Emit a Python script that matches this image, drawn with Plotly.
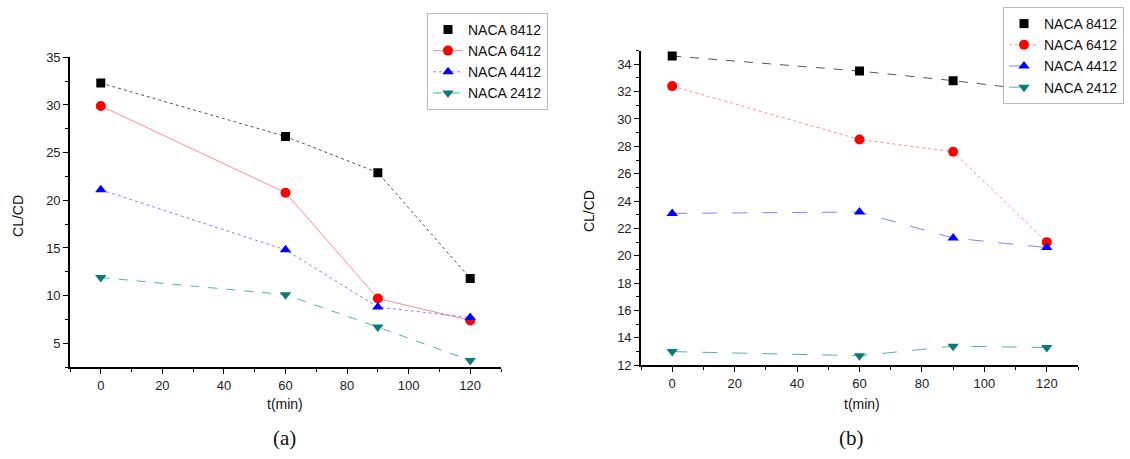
import plotly.graph_objects as go

# ---- data ----
t_min = [0, 60, 90, 120]
series_names = ["NACA 8412", "NACA 6412", "NACA 4412", "NACA 2412"]

a_8412 = [32.3, 26.7, 22.9, 11.8]
a_6412 = [29.9, 20.8, 9.7, 7.4]
a_4412 = [21.1, 14.8, 8.8, 7.7]
a_2412 = [11.9, 10.1, 6.7, 3.2]

b_8412 = [34.6, 33.5, 32.8, 32.0]
b_6412 = [32.4, 28.5, 27.6, 21.0]
b_4412 = [23.1, 23.2, 21.3, 20.6]
b_2412 = [13.0, 12.7, 13.4, 13.3]

W, H = 1130, 459

def px(x):
    return x / W

def py(y):
    return 1 - y / H

marker_colors = ["#000000", "#ff0000", "#0000ff", "#0a7a7a"]
marker_symbols = ["square", "circle", "triangle-up", "triangle-down"]
line_colors = ["#555555", "#ff8c8c", "#8080ff", "#4fb0b0"]
a_dash = ["dot", "solid", "dot", "dash"]
b_dash = ["dash", "dot", "longdash", "longdash"]

fig = go.Figure()

def add_panel(data, xa, ya, legend, dashes):
    for i, (name, vals) in enumerate(zip(series_names, data)):
        if i == 0:
            # line without legend entry, markers-only legend entry
            fig.add_trace(go.Scatter(
                x=t_min, y=vals, mode="lines", xaxis=xa, yaxis=ya,
                line=dict(color=line_colors[i], width=1, dash=dashes[i]),
                showlegend=False, hoverinfo="skip"))
            fig.add_trace(go.Scatter(
                x=t_min, y=vals, mode="markers", name=name, xaxis=xa, yaxis=ya,
                legend=legend,
                marker=dict(color=marker_colors[i], symbol=marker_symbols[i], size=9,
                            line=dict(width=0))))
        else:
            fig.add_trace(go.Scatter(
                x=t_min, y=vals, mode="markers+lines", name=name, xaxis=xa, yaxis=ya,
                legend=legend,
                line=dict(color=line_colors[i], width=1, dash=dashes[i]),
                marker=dict(color=marker_colors[i], symbol=marker_symbols[i], size=10,
                            line=dict(width=0))))

add_panel([a_8412, a_6412, a_4412, a_2412], "x", "y", "legend", a_dash)
add_panel([b_8412, b_6412, b_4412, b_2412], "x2", "y2", "legend2", b_dash)

minor = dict(ticks="outside", ticklen=3, tickwidth=1, tickcolor="#000000")
axis_common = dict(
    showline=True, linecolor="#000000", linewidth=1.6,
    ticks="outside", ticklen=5, tickwidth=1.3, tickcolor="#000000",
    showgrid=False, zeroline=False,
    tickfont=dict(family="Liberation Sans, Arial", size=13, color="#222222"),
)

legend_font = dict(family="Liberation Sans, Arial", size=14, color="#111111")

fig.update_layout(
    width=W, height=H,
    margin=dict(l=0, r=0, t=0, b=0),
    paper_bgcolor="white", plot_bgcolor="white",
    showlegend=True,
    xaxis=dict(domain=[px(70), px(501)], range=[-10, 130], dtick=20, tick0=0,
               anchor="y", minor=dict(minor, dtick=10), **axis_common),
    yaxis=dict(domain=[py(372.3), py(52)], range=[2.5, 35], dtick=5, tick0=0,
               anchor="x", minor=dict(minor, dtick=2.5, tick0=0), **axis_common),
    xaxis2=dict(domain=[px(641), px(1078)], range=[-10, 130], dtick=20, tick0=0,
                anchor="y2", minor=dict(minor, dtick=10), **axis_common),
    yaxis2=dict(domain=[py(370.4), py(45)], range=[12, 35], dtick=2, tick0=0,
                anchor="x2", minor=dict(minor, dtick=1, tick0=0), **axis_common),
    legend=dict(x=px(427), y=py(6), xanchor="left", yanchor="top",
                bgcolor="white", bordercolor="#bbbbbb", borderwidth=1,
                font=legend_font, tracegroupgap=0, itemwidth=30),
    legend2=dict(x=px(1003), y=py(0), xanchor="left", yanchor="top",
                 bgcolor="white", bordercolor="#bbbbbb", borderwidth=1,
                 font=legend_font, tracegroupgap=0, itemwidth=30),
)

annots = [
    dict(text="t(min)", x=px(285), y=py(410), size=14, family="Liberation Sans, Arial", angle=0),
    dict(text="t(min)", x=px(862), y=py(410), size=14, family="Liberation Sans, Arial", angle=0),
    dict(text="CL/CD", x=px(18), y=py(216), size=14, family="Liberation Sans, Arial", angle=-90),
    dict(text="CL/CD", x=px(589), y=py(211), size=14, family="Liberation Sans, Arial", angle=-90),
    dict(text="(a)", x=px(284), y=py(446), size=21, family="Liberation Serif, Times New Roman", angle=0),
    dict(text="(b)", x=px(851), y=py(446), size=21, family="Liberation Serif, Times New Roman", angle=0),
]
for a in annots:
    fig.add_annotation(text=a["text"], x=a["x"], y=a["y"], xref="paper", yref="paper",
                       xanchor="center", yanchor="middle", showarrow=False, textangle=a["angle"],
                       font=dict(family=a["family"], size=a["size"], color="#111111"))

fig.write_html("out.html")
